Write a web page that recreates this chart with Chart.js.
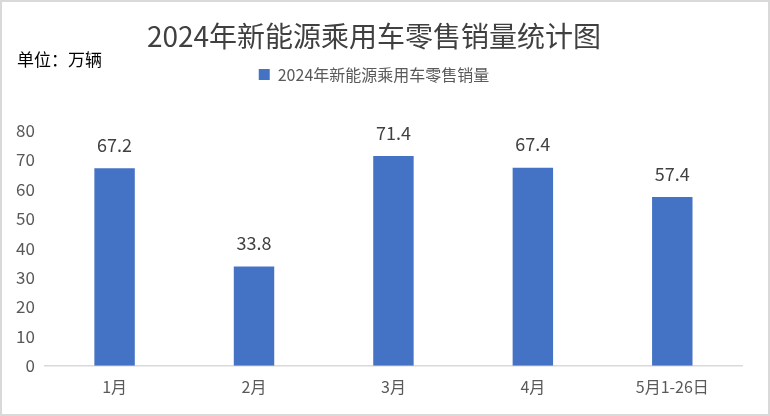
<!DOCTYPE html>
<html>
<head>
<meta charset="utf-8">
<script src="https://cdn.jsdelivr.net/npm/chart.js@4"></script>
<style>
  html, body { margin: 0; padding: 0; background: #fff; }
  #wrap {
    width: 770px; height: 416px; box-sizing: border-box;
    border: 2px solid #d9d9d9; background: #fff;
  }
</style>
</head>
<body>
<div id="wrap"><canvas id="salesChart" width="766" height="412"></canvas></div>
<script>
  // 2024年新能源乘用车零售销量 (万辆)
  var months = ['1月', '2月', '3月', '4月', '5月1-26日'];
  var sales = [67.2, 33.8, 71.4, 67.4, 57.4];
  var seriesName = '2024年新能源乘用车零售销量';
  var chartTitle = '2024年新能源乘用车零售销量统计图';
  var unitText = '单位：万辆';

  var fontFamily = '"Noto Sans CJK SC", "Noto Sans", sans-serif';

  var extras = {
    id: 'extras',
    afterInit: function (chart) {
      // leave some room between legend and plot area
      var legend = chart.legend;
      var fit = legend.fit;
      legend.fit = function () {
        fit.apply(this, arguments);
        this.height += 38;
      };
    },
    afterDatasetsDraw: function (chart) {
      var c = chart.ctx;
      var meta = chart.getDatasetMeta(0);
      c.save();
      c.fillStyle = '#404040';
      c.font = '18px ' + fontFamily;
      c.textAlign = 'center';
      c.textBaseline = 'bottom';
      meta.data.forEach(function (bar, i) {
        c.fillText(sales[i].toFixed(1), bar.x, bar.y - 14);
      });
      c.fillStyle = '#000';
      c.font = '17px ' + fontFamily;
      c.textAlign = 'left';
      c.textBaseline = 'middle';
      c.fillText(unitText, 15, 58);
      c.restore();
    }
  };

  new Chart(document.getElementById('salesChart'), {
    type: 'bar',
    data: {
      labels: months,
      datasets: [{
        label: seriesName,
        data: sales,
        backgroundColor: '#4472c4',
        categoryPercentage: 1,
        barPercentage: 0.29
      }]
    },
    options: {
      responsive: false,
      animation: false,
      layout: { padding: { left: 4, right: 26, top: 0, bottom: 5 } },
      plugins: {
        title: {
          display: true,
          text: chartTitle,
          color: '#404040',
          font: { family: fontFamily, size: 28, weight: 'normal' },
          padding: { top: 18, bottom: 6 }
        },
        legend: {
          display: true,
          labels: {
            color: '#595959',
            font: { family: fontFamily, size: 16 },
            boxWidth: 11,
            boxHeight: 11,
            padding: 7
          }
        },
        tooltip: { enabled: false }
      },
      scales: {
        x: {
          grid: { display: false, drawTicks: false },
          border: { display: true, color: '#d9d9d9', width: 1.5 },
          ticks: { color: '#595959', font: { family: fontFamily, size: 16 }, padding: 12 }
        },
        y: {
          min: 0,
          max: 80,
          grid: { display: false, drawTicks: false },
          border: { display: false },
          ticks: {
            stepSize: 10,
            color: '#595959',
            font: { family: fontFamily, size: 17 },
            padding: 10
          }
        }
      }
    },
    plugins: [extras]
  });
</script>
</body>
</html>
